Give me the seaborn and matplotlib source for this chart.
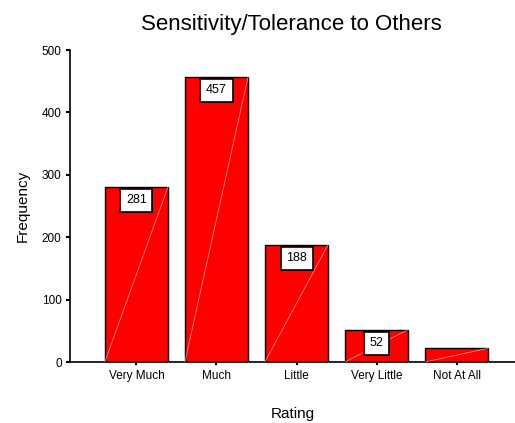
import matplotlib
matplotlib.use("Agg")
import matplotlib.pyplot as plt
import seaborn as sns

categories = ["Very Much", "Much", "Little", "Very Little", "Not At All"]
frequencies = [281, 457, 188, 52, 22]
labelled = [True, True, True, True, False]

sns.set_style("ticks")
plt.rcParams["font.family"] = ["Liberation Sans", "DejaVu Sans"]
plt.rcParams["text.color"] = "black"
plt.rcParams["axes.labelcolor"] = "black"
plt.rcParams["xtick.color"] = "black"
plt.rcParams["ytick.color"] = "black"

fig = plt.figure(figsize=(5.15, 4.23), dpi=100)
ax = fig.add_axes([70 / 515, 61 / 423, 1 - 70 / 515, 312 / 423])

sns.barplot(x=categories, y=frequencies, color="#ff0000", saturation=1,
            width=0.79, edgecolor="black", linewidth=1.0, ax=ax)

# faint white diagonal across each bar
for patch in ax.patches:
    x0 = patch.get_x()
    w = patch.get_width()
    h = patch.get_height()
    ax.plot([x0, x0 + w], [0, h], color="white", lw=0.6, alpha=0.55, zorder=3)

# value boxes just below the top of each bar
for i, (v, show) in enumerate(zip(frequencies, labelled)):
    if show:
        ax.annotate(str(v), xy=(i, v), xytext=(0, -9.8), textcoords="offset points",
                    ha="center", va="center", fontsize=9, zorder=5,
                    bbox=dict(boxstyle="square,pad=0.45", fc="white", ec="black", lw=1.2))

ax.set_xlim(-0.83, 4.73)
ax.set_ylim(0, 500)
ax.set_yticks([0, 100, 200, 300, 400, 500])
ax.tick_params(axis="both", labelsize=8.5, length=3, width=1.5, direction="out", pad=3)
ax.tick_params(axis="x", length=2.5)
for side in ["top", "right"]:
    ax.spines[side].set_visible(False)
for side in ["left", "bottom"]:
    ax.spines[side].set_color("black")
    ax.spines[side].set_linewidth(1.2)

ax.set_xlabel("Rating", fontsize=11, labelpad=18)
ax.set_ylabel("Frequency", fontsize=11, labelpad=9)
fig.text(0.565, 0.942, "Sensitivity/Tolerance to Others", ha="center", va="center",
         fontsize=16)

fig.savefig("out.png", dpi=100)
